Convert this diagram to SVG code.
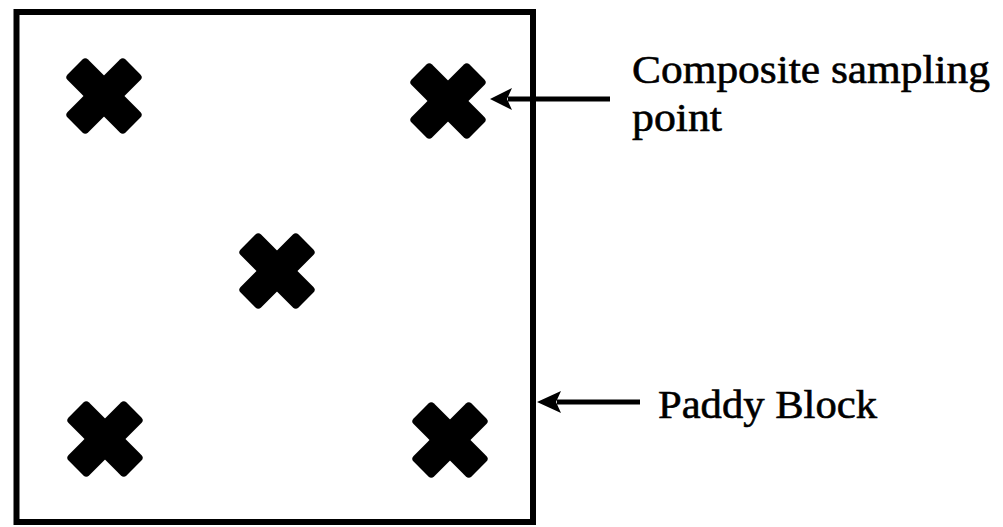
<svg xmlns="http://www.w3.org/2000/svg" width="1003" height="527" viewBox="0 0 1003 527">
<style>
.lbl{font-family:"Liberation Serif","Times New Roman",serif;font-size:41px;fill:#000;stroke:#000;stroke-width:0.6}
.conn{stroke:#000;stroke-width:5;fill:none}
</style>
<defs>
<g id="xmark">
<g transform="rotate(45)">
<rect x="-41" y="-14.5" width="82" height="29" rx="4" fill="#000"/>
<rect x="-14.5" y="-41" width="29" height="82" rx="4" fill="#000"/>
</g>
</g>
</defs>
<rect width="1003" height="527" fill="#fff"/>
<g id="paddy-block">
<rect x="16.5" y="12" width="516.5" height="510" fill="none" stroke="#000" stroke-width="6"/>
</g>
<g id="point-tl"><use href="#xmark" x="104" y="96"/></g>
<g id="point-tr"><use href="#xmark" x="448" y="101"/></g>
<g id="point-c"><use href="#xmark" x="277" y="271"/></g>
<g id="point-bl"><use href="#xmark" x="105" y="439"/></g>
<g id="point-br"><use href="#xmark" x="450" y="440"/></g>
<g id="connectors">
<path class="conn" d="M610,99 L508,99"/>
<path d="M490,99 L512,88 L507,99 L512,110 Z" fill="#000"/>
<path class="conn" d="M640,402 L557,402"/>
<path d="M537,402 L561,391 L556,402 L561,413 Z" fill="#000"/>
</g>
<g id="label-composite">
<text class="lbl" x="632" y="83" textLength="358" lengthAdjust="spacingAndGlyphs">Composite sampling</text>
<text class="lbl" x="632" y="131" textLength="90" lengthAdjust="spacingAndGlyphs">point</text>
</g>
<g id="label-paddy">
<text class="lbl" x="658" y="418" textLength="219" lengthAdjust="spacingAndGlyphs">Paddy Block</text>
</g>
</svg>
